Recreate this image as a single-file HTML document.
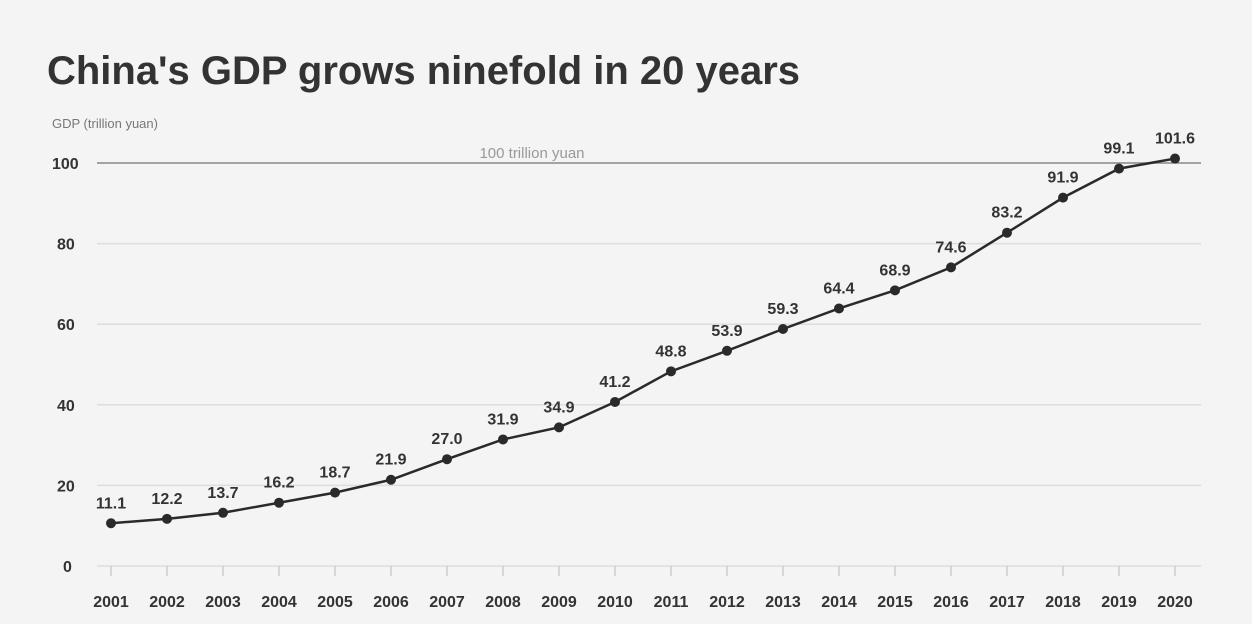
<!DOCTYPE html>
<html><head><meta charset="utf-8"><style>
html,body{margin:0;padding:0;background:#f4f4f4;}
svg{display:block;font-family:"Liberation Sans",sans-serif;}
</style></head><body>
<svg width="1252" height="624" viewBox="0 0 1252 624">
<rect width="1252" height="624" fill="#f4f4f4"/>
<text x="47" y="84" font-size="40" font-weight="bold" fill="#333" textLength="753" lengthAdjust="spacingAndGlyphs">China's GDP grows ninefold in 20 years</text>
<text x="52" y="128" font-size="13" fill="#777">GDP (trillion yuan)</text>
<g id="grid"></g>
<g id="marks"></g>
</svg>
<script>
const years = ["2001","2002","2003","2004","2005","2006","2007","2008","2009","2010","2011","2012","2013","2014","2015","2016","2017","2018","2019","2020"];
const gdp = [11.1,12.2,13.7,16.2,18.7,21.9,27.0,31.9,34.9,41.2,48.8,53.9,59.3,64.4,68.9,74.6,83.2,91.9,99.1,101.6];
const yTicks = [0,20,40,60,80,100];
const NS="http://www.w3.org/2000/svg";
const x = i => 111 + i*(1175-111)/19;
const y = v => 566 - v*4.03;
const yp = v => y(v) + 2;
function mk(tag, attrs, parent){const e=document.createElementNS(NS,tag);for(const k in attrs)e.setAttribute(k,attrs[k]);parent.appendChild(e);return e;}
const grid=document.getElementById('grid'), marks=document.getElementById('marks');
yTicks.forEach(t=>{
  const l=mk('line',{x1:97,x2:1201,y1:y(t),y2:y(t),stroke:t===100?'#888':'#ddd','stroke-width':1.5},grid);
  
  
  const tx=mk('text',{x:t===100?52:(t===0?63:57),y:y(t)+6,'font-size':16,'font-weight':'bold',fill:'#333'},grid);
  tx.textContent=t;
  
  
});
const ref=mk('text',{x:532,y:158,'font-size':15,fill:'#999','text-anchor':'middle'},grid);
ref.textContent='100 trillion yuan';


years.forEach((yr,i)=>{
  const tk=mk('line',{x1:x(i),x2:x(i),y1:566,y2:576,stroke:'#ccc','stroke-width':1.5},grid);
  
  
  const tx=mk('text',{x:x(i),y:607,'font-size':16,'font-weight':'bold',fill:'#333','text-anchor':'middle'},grid);
  tx.textContent=yr;
  
  
});
const pl=mk('polyline',{points:gdp.map((v,i)=>x(i)+','+yp(v)).join(' '),fill:'none',stroke:'#2a2a2a','stroke-width':2.5},marks);


gdp.forEach((v,i)=>{
  const c=mk('circle',{cx:x(i),cy:yp(v),r:5,fill:'#2a2a2a'},marks);
  
  
  const t=mk('text',{x:x(i),y:yp(v)-15,'font-size':16,'font-weight':'bold',fill:'#333','text-anchor':'middle'},marks);
  t.textContent=v.toFixed(1);
  
  
});
</script>
</body></html>
